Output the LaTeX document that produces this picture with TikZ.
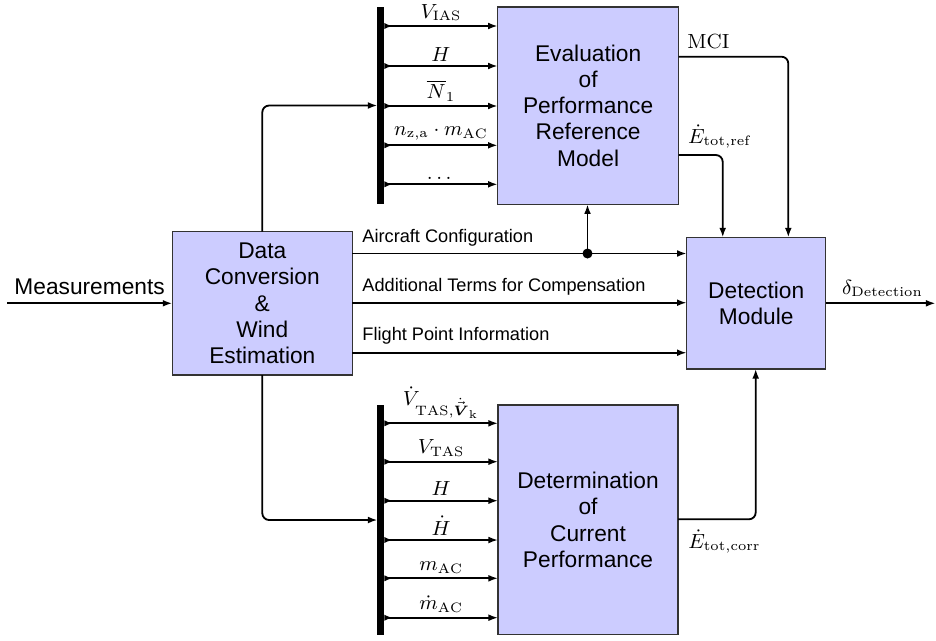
\documentclass[tikz,border=0pt]{standalone}
\usepackage{amsmath}
\usepackage{fontspec}
\setsansfont{Liberation Sans}
\usetikzlibrary{arrows.meta,calc}
\begin{document}
\begin{tikzpicture}[x=0.44pt,y=-0.44pt,
  blk/.style={draw=black!80, line width=0.5pt, fill=blue!20, inner sep=0pt, outer sep=0pt, align=center, font={\sffamily\fontsize{10}{11.5}\selectfont}},
  busbar/.style={fill=black, draw=none, inner sep=0pt, outer sep=0pt, minimum width=3pt},
  arr/.style={line width=0.8pt, -{Latex[length=4.2pt,width=3pt]}},
  busarr/.style={line width=0.8pt, {Latex[reversed,length=3.5pt,width=2.8pt]}-{Latex[length=4.2pt,width=3pt]}},
  mlbl/.style={font=\small, anchor=base west, inner sep=0pt},
  tlbl/.style={font=\sffamily\footnotesize, anchor=base west, inner sep=0pt},
  blbl/.style={font=\small, midway, above, inner sep=1.8pt},
]
\useasboundingbox (0,0) rectangle (936,640);
% blocks
\node[blk, minimum width=79.2pt, minimum height=63.1pt] (data) at (262.3,303.3) {Data\\Conversion\\\&\\Wind\\Estimation};
\node[blk, minimum width=79.6pt, minimum height=86.8pt] (eval) at (588.1,105.7) {Evaluation\\of\\Performance\\Reference\\Model};
\node[blk, minimum width=61.2pt, minimum height=57.9pt] (det) at (756.2,303.2) {Detection\\Module};
\node[blk, minimum width=79.2pt, minimum height=101pt] (curr) at (588,519.8) {Determination\\of\\Current\\Performance};
\node[busbar, minimum height=86.7pt] (bus1) at (380.9,105.5) {};
\node[busbar, minimum height=101.2pt] (bus2) at (380.9,520) {};
% measurements
\coordinate (min) at (7,303.3);
\draw[arr] (min) -- (data.west);
\node[anchor=base west, font=\sffamily, inner sep=0pt] (lmeas) at (14,294) {Measurements};
% to buses
\draw[arr, rounded corners=3pt] (data.north) |- (bus1.west);
\draw[arr, rounded corners=3pt] (data.south) |- (bus2.west);
% top bus arrows
\draw[busarr] (bus1.east |- 0,26) -- (eval.west |- 0,26) node[blbl] (t1) {$V_{\mathrm{IAS}}$};
\draw[busarr] (bus1.east |- 0,66) -- (eval.west |- 0,66) node[blbl] (t2) {$H$};
\draw[busarr] (bus1.east |- 0,106) -- (eval.west |- 0,106) node[blbl] (t3) {$\overline{N}_1$};
\draw[busarr] (bus1.east |- 0,145.3) -- (eval.west |- 0,145.3) node[blbl] (t4) {$n_{\mathrm{z,a}}\cdot m_{\mathrm{AC}}$};
\draw[busarr] (bus1.east |- 0,184.3) -- (eval.west |- 0,184.3) node[blbl] (t5) {$\dots$};
% bottom bus arrows
\draw[busarr] (bus2.east |- 0,423.3) -- (curr.west |- 0,423.3) node[blbl] (b1) {$\dot{V}_{\mathrm{TAS},\dot{\vec{\boldsymbol{V}}}_{\mathrm{k}}}$};
\draw[busarr] (bus2.east |- 0,461.7) -- (curr.west |- 0,461.7) node[blbl] (b2) {$V_{\mathrm{TAS}}$};
\draw[busarr] (bus2.east |- 0,500.7) -- (curr.west |- 0,500.7) node[blbl] (b3) {$H$};
\draw[busarr] (bus2.east |- 0,540) -- (curr.west |- 0,540) node[blbl] (b4) {$\dot{H}$};
\draw[busarr] (bus2.east |- 0,578.3) -- (curr.west |- 0,578.3) node[blbl] (b5) {$m_{\mathrm{AC}}$};
\draw[busarr] (bus2.east |- 0,617.7) -- (curr.west |- 0,617.7) node[blbl] (b6) {$\dot{m}_{\mathrm{AC}}$};
% middle lines
\coordinate (acdot) at (587.5,253.5);
\draw[arr] (data.east |- acdot) -- (det.west |- acdot);
\fill (acdot) circle (2.2pt);
\draw[arr] (acdot) -- (eval.south -| acdot);
\draw[arr] (data.east |- 0,302.7) -- (det.west |- 0,302.7);
\draw[arr] (data.east |- 0,352.7) -- (det.west |- 0,352.7);
\node[tlbl] (lac) at (362,242.3) {Aircraft Configuration};
\node[tlbl] (ladd) at (362,291) {Additional Terms for Compensation};
\node[tlbl] (lfp) at (362,340) {Flight Point Information};
% right side
\coordinate (mcix) at (788.3,56.7);
\coordinate (refx) at (722.7,155);
\coordinate (corrx) at (755.7,519.3);
\coordinate (dout) at (935.5,303.3);
\draw[arr, rounded corners=3pt] (eval.east |- mcix) -| (det.north -| mcix);
\draw[arr, rounded corners=3pt] (eval.east |- refx) -| (det.north -| refx);
\draw[arr, rounded corners=3pt] (curr.east |- corrx) -| (det.south -| corrx);
\draw[arr] (det.east |- dout) -- (dout);
\node[mlbl] (lmci) at (687,48.3) {$\mathrm{MCI}$};
\node[mlbl] (lref) at (687.7,143.3) {$\dot{E}_{\mathrm{tot,ref}}$};
\node[mlbl] (lcorr) at (688,548.3) {$\dot{E}_{\mathrm{tot,corr}}$};
\node[mlbl] (ldet) at (841.7,294) {$\delta_{\mathrm{Detection}}$};
\end{tikzpicture}
\end{document}
